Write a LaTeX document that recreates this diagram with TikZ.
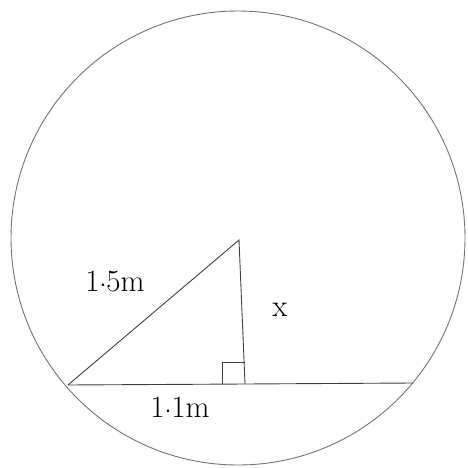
\documentclass[tikz,border=0pt]{standalone}
\begin{document}
\begin{tikzpicture}[x=1pt,y=-1pt,
  edge/.style={draw=black!75,line width=0.9pt},
  rim/.style={draw=black!55,line width=0.9pt},
  lbl/.style={font=\fontsize{31}{36}\selectfont,text=black}]
\useasboundingbox (0,0) rectangle (467,468);
\coordinate (C) at (238,238);
\coordinate (O) at (239,240);
\coordinate (A) at (68,385);
\coordinate (B) at (413,383);
\coordinate (F) at (245,384);
\coordinate (R1) at (222,384);
\coordinate (R2) at (222,362);
\coordinate (R3) at (244.5,362);
\draw[rim] (C) circle[radius=227];
\draw[edge] (A) -- (F) -- (B);
\draw[edge] (A) -- (O) -- (F);
\draw[edge] (R1) -- (R2) -- (R3);
\node[lbl] (l15) at (115,281) {1$\cdot$5m};
\node[lbl] (lx) at (280,310) {x};
\node[lbl] (l11) at (180,407) {1$\cdot$1m};
\end{tikzpicture}
\end{document}
